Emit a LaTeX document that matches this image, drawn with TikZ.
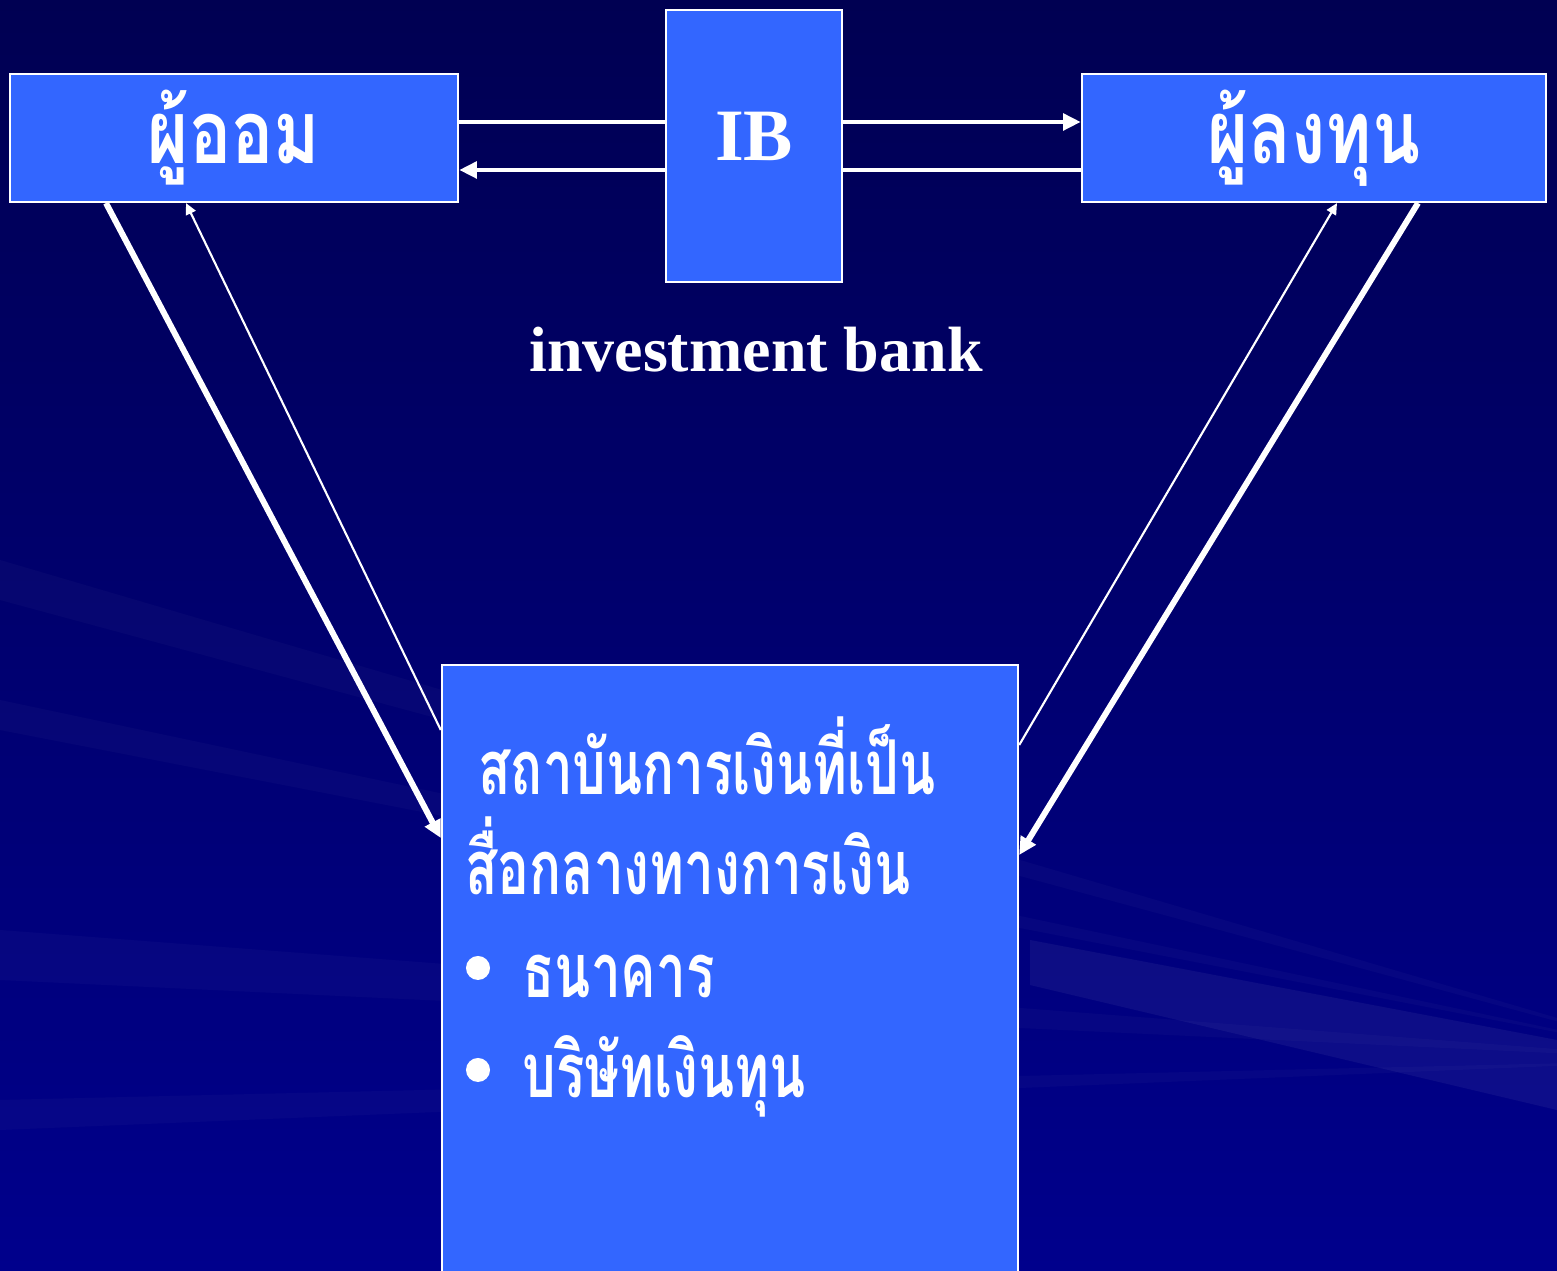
\documentclass[tikz,border=0pt]{standalone}
\usepackage{fontspec}
\setmainfont{Liberation Serif}
\newfontfamily\thaifont[Script=Thai,FakeStretch=0.8]{Loma}
\newfontfamily\thaibody[Script=Thai,FakeStretch=0.7]{Loma}
\usetikzlibrary{arrows.meta}

\definecolor{boxblue}{RGB}{51,102,255}
\definecolor{navytop}{RGB}{0,0,82}
\definecolor{navybot}{RGB}{0,0,140}

\tikzset{
  block/.style={draw=white, line width=0.6pt, fill=boxblue, text=white, inner sep=0pt},
  title/.style={text=white, font=\thaifont\bfseries\fontsize{25}{30}\selectfont},
  body/.style={text=white, anchor=base west, inner sep=0pt, font=\thaibody\bfseries\fontsize{21.5}{26}\selectfont},
  dot/.style={circle, fill=white, minimum size=0.24cm, inner sep=0pt},
  flow/.style={white, line width=1.4pt, -{Triangle[length=5pt,width=4.6pt]}},
  bigflow/.style={white, line width=1.7pt, -{Triangle[length=5pt,width=4.8pt]}},
  link/.style={white, line width=1.4pt},
  back/.style={white, line width=0.6pt, -{Triangle[length=3.2pt,width=3pt]}},
  ray/.style={white, opacity=0.025}
}

\begin{document}
\begin{tikzpicture}[x=0.01cm, y=-0.01cm]
  % background
  \useasboundingbox (0,0) rectangle (1557,1271);
  \clip (0,0) rectangle (1557,1271);
  \shade[shading angle=160, top color=navytop, bottom color=navybot] (0,0) rectangle (1557,1271);
  \foreach \a/\b in {560/600, 700/730, 930/980, 1100/1130}
    \fill[ray] (1700,1060) -- (0,\a) -- (0,\b) -- cycle;
  \fill[white, opacity=0.05] (1557,1040) -- (1030,940) -- (1030,985) -- (1557,1110) -- cycle;

  % boxes
  \node[block, minimum width=4.48cm, minimum height=1.28cm, title] (saver) at (234,138) {ผู้ออม};
  \node[block, minimum width=1.76cm, minimum height=2.72cm] (ib) at (754,146) {};
  \node[block, minimum width=4.64cm, minimum height=1.28cm, title] (investor) at (1314,138) {ผู้ลงทุน};
  \node[block, minimum width=5.76cm, minimum height=6.4cm] (inst) at (730,985) {};

  \node[text=white, font=\bfseries\fontsize{21}{25}\selectfont] (iblabel) at (754,136) {IB};
  \node[text=white, font=\bfseries\fontsize{18.2}{22}\selectfont] (ibname) at (756,350) {investment bank};

  % text in the institution box
  \node[body] (line1) at (478,795) {สถาบันการเงินที่เป็น};
  \node[body] (line2) at (465,895) {สื่อกลางทางการเงิน};
  \node[dot] (dot1) at (478,968) {};
  \node[body] (bank) at (522,998) {ธนาคาร};
  \node[dot] (dot2) at (478,1070) {};
  \node[body] (finco) at (522,1098) {บริษัทเงินทุน};

  % top flows
  \draw[link] (saver.east |- 0,122) -- (ib.west |- 0,122);
  \draw[flow] (ib.east |- 0,122) -- (investor.west |- 0,122);
  \draw[link] (investor.west |- 0,170) -- (ib.east |- 0,170);
  \draw[flow] (ib.west |- 0,170) -- (saver.east |- 0,170);

  % flows through the institution
  \draw[bigflow] (106,0 |- saver.south) -- (inst.west |- 0,838);
  \draw[back] (inst.west |- 0,730) -- (186,0 |- saver.south);
  \draw[back] (inst.east |- 0,745) -- (1337,0 |- investor.south);
  \draw[bigflow] (1418,0 |- investor.south) -- (inst.east |- 0,855);
\end{tikzpicture}
\end{document}
